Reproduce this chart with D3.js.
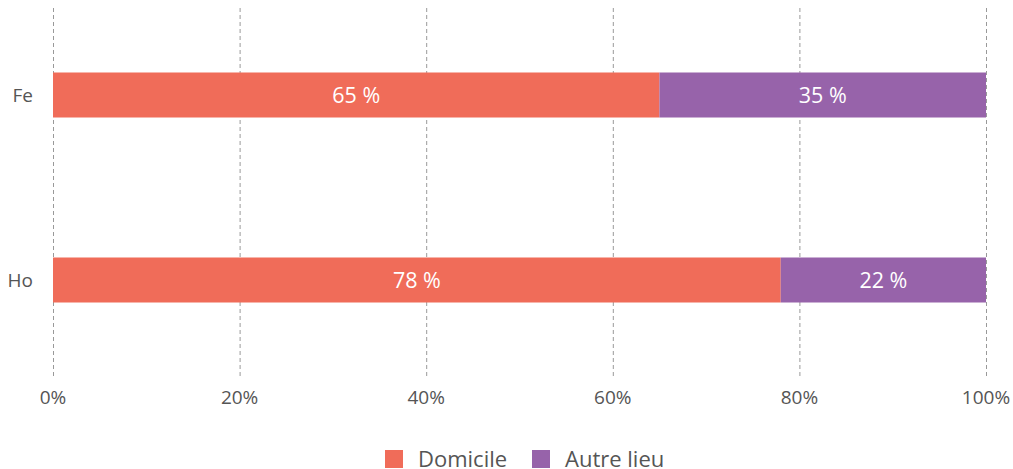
<!DOCTYPE html>
<html>
<head>
<meta charset="utf-8">
<script src="https://cdn.jsdelivr.net/npm/d3@7"></script>
<style>
  body { margin: 0; background: #fff; font-family: "Open Sans", sans-serif; }
</style>
</head>
<body>
<svg id="chart" width="1013" height="469"></svg>
<script>
// Data
const categories = ["Fe", "Ho"];
const domicile = [65, 78];
const autreLieu = [35, 22];
const seriesNames = ["Domicile", "Autre lieu"];
const seriesColors = ["#f06c59", "#9763aa"];
const xTicks = [0, 20, 40, 60, 80, 100];

const svg = d3.select("#chart");
const margins = { left: 53, right: 27, top: 8, bottom: 97 };
const width = 1013, height = 469;

const x = d3.scaleLinear()
  .domain([0, 100])
  .range([margins.left, width - margins.right]);

const y = d3.scalePoint()
  .domain(categories)
  .range([2.5, 372.5])
  .padding(0.5);
const barH = 45;

// Dashed grid lines
svg.append("g")
  .selectAll("line")
  .data(xTicks)
  .join("line")
  .attr("x1", d => x(d) + 0.5)
  .attr("x2", d => x(d) + 0.5)
  .attr("y1", margins.top)
  .attr("y2", 378)
  .attr("stroke", "#999")
  .attr("stroke-width", 1)
  .attr("stroke-dasharray", "4,3");

// X tick labels
svg.append("g")
  .selectAll("text")
  .data(xTicks)
  .join("text")
  .attr("x", d => x(d))
  .attr("y", 404)
  .attr("text-anchor", "middle")
  .attr("font-size", "19px")
  .attr("fill", "#555")
  .text(d => d + "%");

// Y labels
svg.append("g")
  .selectAll("text")
  .data(categories)
  .join("text")
  .attr("x", 33)
  .attr("y", d => y(d) + 7)
  .attr("text-anchor", "end")
  .attr("font-size", "19px")
  .attr("fill", "#555")
  .text(d => d);

// Stacked bars
const rows = categories.map((c, i) => ({ cat: c, values: [domicile[i], autreLieu[i]] }));
rows.forEach(r => {
  let start = 0;
  r.values.forEach((v, j) => {
    const g = svg.append("g");
    g.append("rect")
      .attr("x", x(start))
      .attr("y", y(r.cat) - barH / 2)
      .attr("width", x(start + v) - x(start))
      .attr("height", barH)
      .attr("fill", seriesColors[j]);
    g.append("text")
      .attr("x", (x(start) + x(start + v)) / 2)
      .attr("y", y(r.cat) + 8)
      .attr("text-anchor", "middle")
      .attr("font-size", "21.5px")
      .attr("fill", "#fff")
      .text(v + " %");
    start += v;
  });
});

// Legend
const legendX = [385, 532];
const legend = svg.append("g");
seriesNames.forEach((name, i) => {
  legend.append("rect")
    .attr("x", legendX[i])
    .attr("y", 450)
    .attr("width", 18)
    .attr("height", 18)
    .attr("fill", seriesColors[i]);
  legend.append("text")
    .attr("x", legendX[i] + 33)
    .attr("y", 467)
    .attr("font-size", "22px")
    .attr("fill", "#555")
    .text(name);
});
</script>
</body>
</html>
